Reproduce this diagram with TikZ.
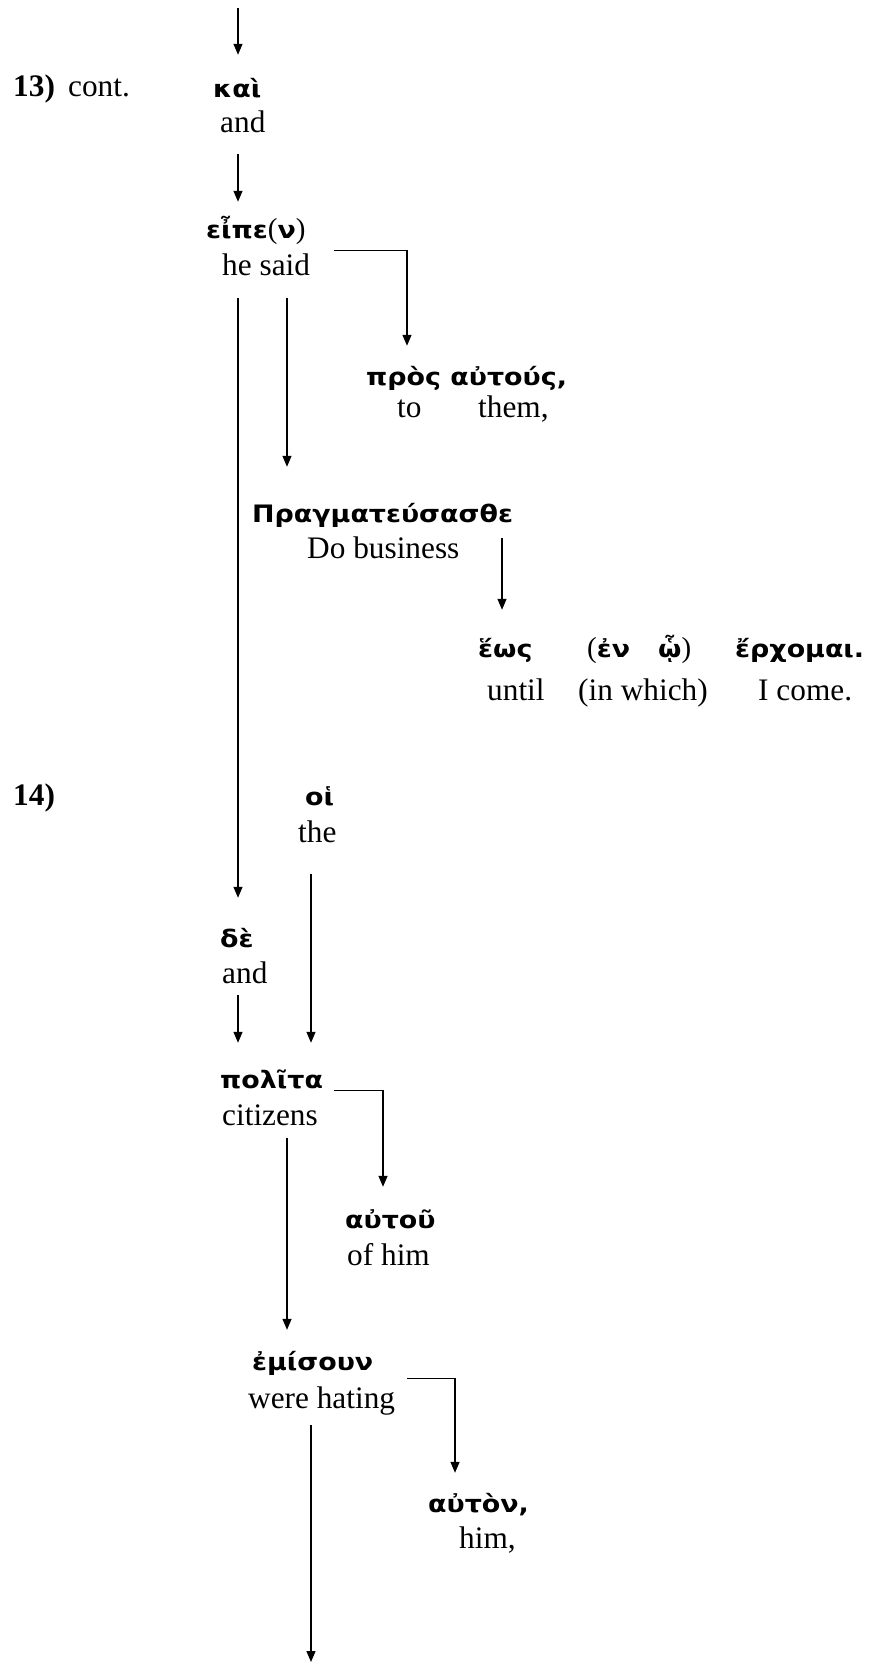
\documentclass[tikz,border=0pt]{standalone}
\usepackage{fontspec}
\setmainfont{Liberation Serif}
\newfontfamily\grkfont[FakeStretch=1.12]{DejaVu Sans Bold}
\newfontfamily\parenfont{Liberation Serif}
\usetikzlibrary{arrows.meta,calc}
\newcommand\rp[1]{{\parenfont\fontsize{29}{32}\selectfont #1}}
\tikzset{
  en/.style={font=\fontsize{31.3}{36}\selectfont, anchor=base west, inner sep=0pt, text height=21pt, text depth=7pt},
  gk/.style={font=\grkfont\fontsize{24}{28}\selectfont, anchor=base west, inner sep=0pt, text height=18pt, text depth=5pt},
  arr/.style={draw, line width=1.3pt, -{Triangle[length=11pt,width=9pt]}}
}
\begin{document}
\begin{tikzpicture}[x=1pt,y=-1pt]
\useasboundingbox (0,0) rectangle (870,1664);
% nodes
\node[en] (n13) at (13,97) {\textbf{13)}};
\node[en] (cont) at (68,97) {cont.};
\node[gk] (kai) at (213,98) {καὶ};
\node[en] (and1) at (220,133) {and};
\node[gk] (eipe) at (206,238) {εἶπε\rp{(}ν\rp{)}};
\node[en] (hesaid) at (222,275) {he said};
\node[gk] (pros) at (366,385) {πρὸς αὐτούς,};
\node[en] (to) at (397,417) {to};
\node[en] (them) at (478,417) {them,};
\node[gk] (prag) at (252,522) {Πραγματεύσασθε};
\node[en] (dobus) at (307,558) {Do business};
\node[gk] (heos) at (478,657) {ἕως};
\node[gk] (en1) at (587,657) {\rp{(}ἐν};
\node[gk] (hw) at (658,657) {ᾧ\rp{)}};
\node[gk] (erx) at (735,657) {ἔρχομαι.};
\node[en] (until) at (487,700) {until};
\node[en] (inwhich) at (578,700) {(in which)};
\node[en] (icome) at (758,700) {I come.};
\node[en] (n14) at (13,805) {\textbf{14)}};
\node[gk] (hoi) at (305,805) {οἱ};
\node[en] (the) at (298,842) {the};
\node[gk] (de) at (220,947) {δὲ};
\node[en] (and2) at (222,983) {and};
\node[gk] (polita) at (220,1088) {πολῖτα};
\node[en] (citizens) at (222,1125) {citizens};
\node[gk] (autou) at (345,1228) {αὐτοῦ};
\node[en] (ofhim) at (347,1265) {of him};
\node[gk] (emisoun) at (252,1370) {ἐμίσουν};
\node[en] (werehating) at (248,1408) {were hating};
\node[gk] (auton) at (428,1512) {αὐτὸν,};
\node[en] (him) at (459,1548) {him,};
% free ends
\coordinate (topin) at (238,8);
\coordinate (botout) at (311,1662);
% connectors
\draw[arr] (topin) -- ($(kai.north west)+(25,-25)$);
\draw[arr] ($(and1.south west)+(18,14)$) -- ($(eipe.north west)+(32,-18)$);
\draw[arr] ($(hesaid.north east)+(24,-3)$) -| ($(pros.north west)+(41,-21)$);
\draw[arr] ($(hesaid.south west)+(16,16)$) -- ($(de.north west)+(18,-31)$);
\draw[arr] ($(hesaid.south west)+(65,16)$) -- ($(prag.north west)+(35,-37)$);
\draw[arr] ($(heos.north west |- dobus.south)+(24,-27)$) -- ($(heos.north west)+(24,-29)$);
\draw[arr] ($(the.south west)+(13,25)$) -- ($(polita.north west)+(91,-27)$);
\draw[arr] ($(and2.south west)+(16,5)$) -- ($(polita.north west)+(18,-27)$);
\draw[arr] ($(citizens.north east)+(16,-13)$) -| ($(autou.north west)+(38,-23)$);
\draw[arr] ($(citizens.south west)+(65,6)$) -- ($(emisoun.north west)+(35,-22)$);
\draw[arr] ($(werehating.north east)+(12,-8)$) -| ($(auton.north west)+(27,-21)$);
\draw[arr] ($(werehating.south west)+(63,10)$) -- (botout);
\end{tikzpicture}
\end{document}
